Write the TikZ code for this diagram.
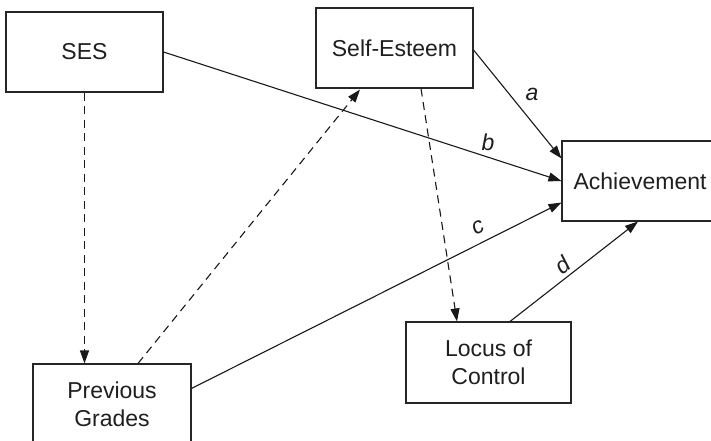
\documentclass[tikz,border=0pt]{standalone}
\usepackage{fontspec}
\setmainfont{Liberation Sans}
\usetikzlibrary{arrows.meta,calc}
\begin{document}
\begin{tikzpicture}[x=1pt,y=-1pt,
  box/.style={draw=black!85,line width=1.1pt,inner sep=0pt,align=center,
    text=black!88,font=\fontsize{23}{27.6}\selectfont},
  link/.style={draw=black!90,line width=1.1pt,-{Triangle[length=13pt,width=9pt]}},
  dlink/.style={link,dash pattern=on 8pt off 5.5pt},
  lbl/.style={text=black!88,font=\fontsize{23}{27.6}\selectfont\itshape,inner sep=0pt}]
  \useasboundingbox (0,0) rectangle (711,441);
  \clip (0,0) rectangle (711,441);
  \fill[white] (0,0) rectangle (711,441);

  % variables
  \node[box,minimum width=157pt,minimum height=80pt] (ses) at (84.5,52) {SES};
  \node[box,minimum width=157pt,minimum height=80pt] (se) at (394.5,48) {Self-Esteem};
  \node[box,minimum width=156pt,minimum height=80pt] (ach) at (640,181) {Achievement};
  \node[box,minimum width=165pt,minimum height=81pt] (loc) at (488.5,362.5) {Locus of\\Control};
  \node[box,minimum width=158pt,minimum height=80pt] (pg) at (112,404) {Previous\\Grades};

  % correlational (dashed) paths
  \draw[dlink] (ses.south) -- (ses.south |- pg.north);
  \draw[dlink] ($(pg.north)+(26,0)$) -- ($(se.south)+(-34.5,1)$);
  \draw[dlink] ($(se.south)+(26.5,0)$) -- ($(loc.north)+(-31.5,0)$);

  % direct paths to achievement
  \draw[link] (ses.east) -- (ach.west);
  \draw[link] ($(se.east)+(0,2)$) -- ($(ach.north west)+(0,18)$);
  \draw[link] ($(pg.north east)+(0,25)$) -- ($(ach.south west)+(0,-19)$);
  \draw[link] ($(loc.north)+(21.5,0)$) -- ($(ach.south)+(-2,0)$);

  % path labels
  \node[lbl] (la) at (532,94) {a};
  \node[lbl] (lb) at (488,142) {b};
  \node[lbl,rotate=26.7] (lc) at (478,227) {c};
  \node[lbl,rotate=38.3] (ld) at (562,265) {d};
\end{tikzpicture}
\end{document}
